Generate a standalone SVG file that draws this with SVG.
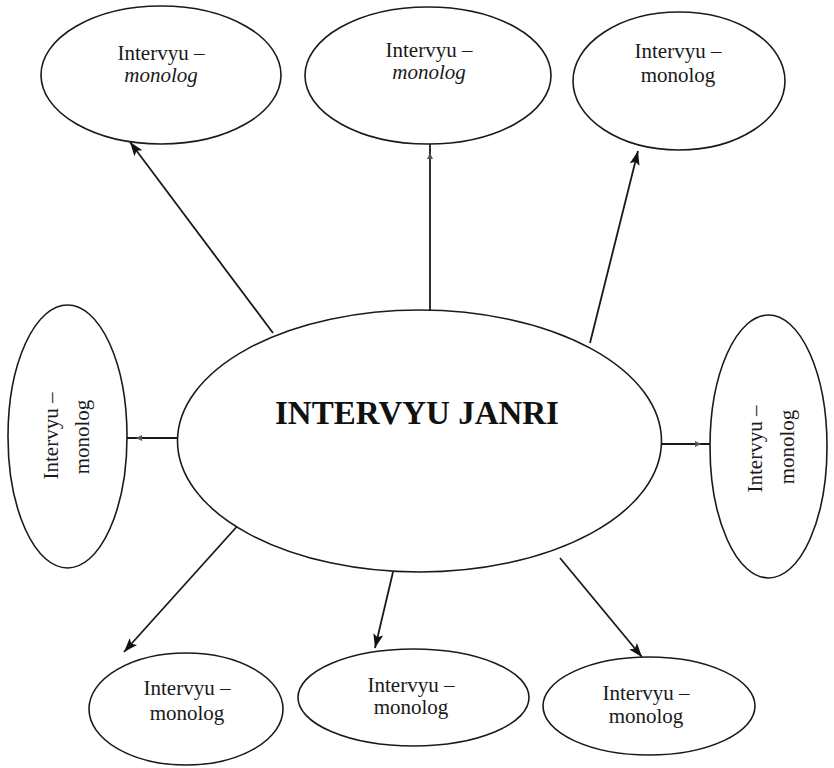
<svg xmlns="http://www.w3.org/2000/svg" width="834" height="768" viewBox="0 0 834 768">
<style>
.node ellipse{fill:#fff;stroke:#1a1a1a;stroke-width:1.6}
.lbl{font-family:"Liberation Serif","Times New Roman",serif;font-size:21px;fill:#1a1a1a;text-anchor:middle}
.it{font-style:italic}
.title{font-family:"Liberation Serif","Times New Roman",serif;font-size:33px;font-weight:bold;fill:#111;text-anchor:middle}
.edges line{stroke:#1a1a1a;stroke-width:1.8}
</style>
<defs>
<marker id="big" markerUnits="userSpaceOnUse" markerWidth="16" markerHeight="12" refX="14" refY="5" orient="auto">
<path d="M0,0 L14,5 L0,10 L3,5 z" fill="#111"/>
</marker>
<marker id="small" markerUnits="userSpaceOnUse" markerWidth="20" markerHeight="10" refX="15" refY="3" orient="auto">
<path d="M0,0 L6,3 L0,6 z" fill="#555"/>
</marker>
</defs>
<rect width="834" height="768" fill="#fff"/>
<g class="edges">
<line x1="273" y1="333" x2="130" y2="142" marker-end="url(#big)"/>
<line x1="430" y1="310" x2="430" y2="144" marker-end="url(#small)"/>
<line x1="590" y1="343" x2="638" y2="151" marker-end="url(#big)"/>
<line x1="177" y1="438" x2="127" y2="438" marker-end="url(#small)"/>
<line x1="661" y1="444" x2="710" y2="444" marker-end="url(#small)"/>
<line x1="241" y1="522" x2="124" y2="652" marker-end="url(#big)"/>
<line x1="393" y1="572" x2="375" y2="648" marker-end="url(#big)"/>
<line x1="560" y1="558" x2="642" y2="657" marker-end="url(#big)"/>
</g>
<g id="center" class="node">
<ellipse cx="419.5" cy="441" rx="242" ry="131"/>
<text class="title" x="417" y="424">INTERVYU JANRI</text>
</g>
<g id="top-left" class="node">
<ellipse cx="161" cy="75" rx="120" ry="69"/>
<text class="lbl" x="161" y="60">Intervyu –</text>
<text class="lbl it" x="161" y="82">monolog</text>
</g>
<g id="top-middle" class="node">
<ellipse cx="428" cy="75.5" rx="123" ry="68.5"/>
<text class="lbl" x="429" y="57">Intervyu –</text>
<text class="lbl it" x="429" y="79">monolog</text>
</g>
<g id="top-right" class="node">
<ellipse cx="679" cy="81" rx="106" ry="69"/>
<text class="lbl" x="678" y="58">Intervyu –</text>
<text class="lbl" x="678" y="82">monolog</text>
</g>
<g id="left" class="node">
<ellipse cx="67.5" cy="436.5" rx="59.5" ry="131.5"/>
<text class="lbl" transform="translate(58,436) rotate(-90)">Intervyu –</text>
<text class="lbl" transform="translate(89,437) rotate(-90)">monolog</text>
</g>
<g id="right" class="node">
<ellipse cx="768.5" cy="446.5" rx="58.5" ry="131.5"/>
<text class="lbl" transform="translate(762,449) rotate(-90)">Intervyu –</text>
<text class="lbl" transform="translate(794,447) rotate(-90)">monolog</text>
</g>
<g id="bottom-left" class="node">
<ellipse cx="186" cy="709" rx="97" ry="56"/>
<text class="lbl" x="187" y="695">Intervyu –</text>
<text class="lbl" x="187" y="720">monolog</text>
</g>
<g id="bottom-middle" class="node">
<ellipse cx="413.5" cy="697.5" rx="115.5" ry="48.5"/>
<text class="lbl" x="411" y="692">Intervyu –</text>
<text class="lbl" x="411" y="714">monolog</text>
</g>
<g id="bottom-right" class="node">
<ellipse cx="649" cy="706" rx="106" ry="49"/>
<text class="lbl" x="646" y="700">Intervyu –</text>
<text class="lbl" x="646" y="723">monolog</text>
</g>
</svg>
